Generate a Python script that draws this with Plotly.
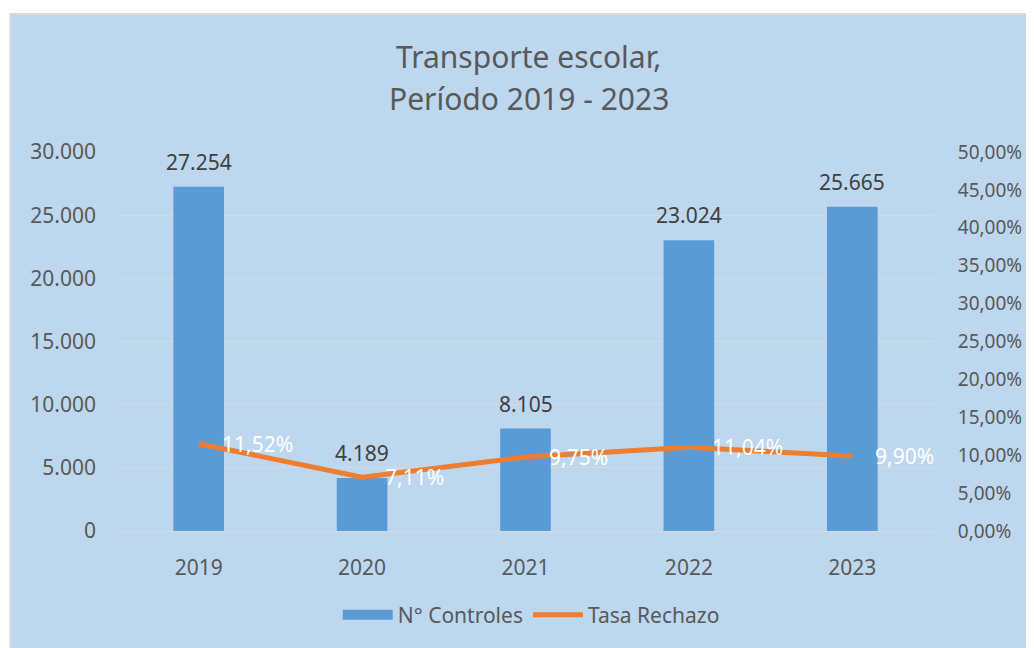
import plotly.graph_objects as go

years = ["2019", "2020", "2021", "2022", "2023"]
controles = [27254, 4189, 8105, 23024, 25665]
tasa = [0.1152, 0.0711, 0.0975, 0.1104, 0.0990]

FONT = "Noto Sans"
GRAY = "#595959"
BG = "#BDD7EE"
BLUE = "#5B9BD5"
ORANGE = "#ED7D31"
FS = 21

fig = go.Figure()
fig.add_trace(go.Bar(x=years, y=controles, name="N° Controles", showlegend=False,
                     legendgroup="c", marker=dict(color=BLUE, line=dict(width=0)), yaxis="y"))
# legend swatch for the bars (wide rectangle like the original)
fig.add_trace(go.Scatter(x=[None], y=[None], name="N° Controles", mode="lines",
                         legendgroup="c", line=dict(color=BLUE, width=14), yaxis="y"))
fig.add_trace(go.Scatter(x=years, y=tasa, name="Tasa Rechazo", mode="lines",
                         line=dict(color=ORANGE, width=5), yaxis="y2"))

annotations = []
for i, v in enumerate(controles):
    annotations.append(dict(x=i, y=v, xref="x", yref="y", text=f"{v:,}".replace(",", "."),
                            showarrow=False, yanchor="bottom", yshift=9,
                            font=dict(family=FONT, size=FS, color="#404040")))
for i, v in enumerate(tasa):
    annotations.append(dict(x=i, y=v, xref="x", yref="y2",
                            text=f"{v*100:.2f}".replace(".", ",") + "%",
                            showarrow=False, xanchor="left", xshift=21, yanchor="middle",
                            font=dict(family=FONT, size=FS, color="white")))
annotations.append(dict(x=0.504, y=1.252, xref="paper", yref="paper", text="Transporte escolar,",
                        showarrow=False, yanchor="middle", xanchor="center",
                        font=dict(family=FONT, size=30, color=GRAY)))
annotations.append(dict(x=0.504, y=1.140, xref="paper", yref="paper", text="Período 2019 - 2023",
                        showarrow=False, yanchor="middle", xanchor="center",
                        font=dict(family=FONT, size=30, color=GRAY)))

fig.update_layout(
    width=1026, height=640,
    margin=dict(l=109, r=97, t=144, b=117),
    paper_bgcolor="white", plot_bgcolor="rgba(0,0,0,0)",
    separators=",.",
    bargap=0.69,
    font=dict(family=FONT, size=FS, color=GRAY),
    shapes=[dict(type="rect", xref="paper", yref="paper", x0=-0.1305, x1=1.4, y0=-0.6, y1=1.364,
                 fillcolor=BG, line=dict(color="#D9D9D9", width=2), layer="below")],
    annotations=annotations,
    xaxis=dict(type="category", range=[-0.5, 4.5], showgrid=False, showline=True,
               linecolor="#D9D9D9", linewidth=1, ticks="", ticklabelstandoff=18,
               tickfont=dict(family=FONT, size=FS, color=GRAY)),
    yaxis=dict(range=[0, 30000], dtick=5000, tickformat=",.0f", showgrid=True,
               gridcolor="#D9D9D9", gridwidth=1, zeroline=False, showline=False,
               ticklabelstandoff=20, tickfont=dict(family=FONT, size=FS, color=GRAY)),
    yaxis2=dict(range=[0, 0.5], dtick=0.05, tickformat=".2%", overlaying="y", side="right",
                showgrid=False, zeroline=False, showline=False,
                ticks="outside", ticklen=19, tickcolor="rgba(0,0,0,0)",
                tickfont=dict(family=FONT, size=19, color=GRAY)),
    legend=dict(orientation="h", x=0.507, xanchor="center", y=-0.222, yanchor="middle",
                bgcolor="rgba(0,0,0,0)", font=dict(family=FONT, size=FS, color=GRAY),
                itemwidth=50, traceorder="normal"),
)

fig.write_html("out.html")
